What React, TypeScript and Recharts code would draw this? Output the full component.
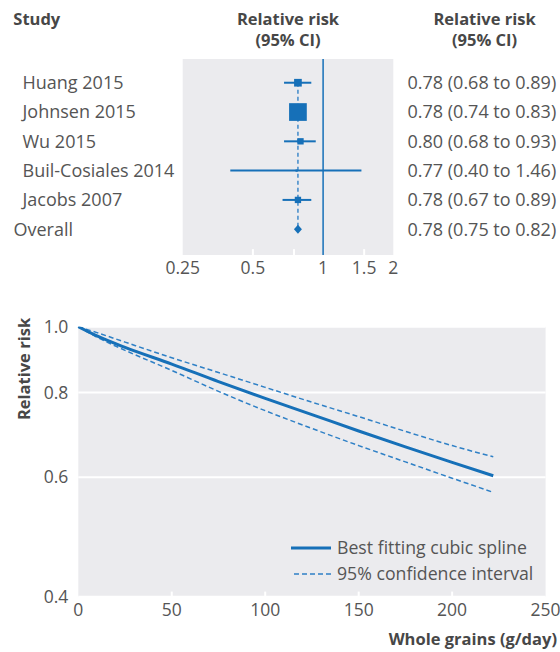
import React from 'react'
import {
  ScatterChart,
  Scatter,
  ErrorBar,
  LineChart,
  Line,
  XAxis,
  YAxis,
  CartesianGrid,
  ReferenceLine,
  Legend,
} from 'recharts'

// 森林图数据
const studies = ['Huang 2015', 'Johnsen 2015', 'Wu 2015', 'Buil-Cosiales 2014', 'Jacobs 2007', 'Overall']
const rr = [0.78, 0.78, 0.8, 0.77, 0.78, 0.78]
const lower = [0.68, 0.74, 0.68, 0.4, 0.67, 0.75]
const upper = [0.89, 0.83, 0.93, 1.46, 0.89, 0.82]
const weights = [12.9, 68.5, 8.8, 1.1, 8.8, 100]
const rrTicks = [0.25, 0.5, 1, 1.5, 2]
const rrMinorTicks = [0.5, 0.75, 1.5]

// 剂量反应曲线
const grains = [0, 10, 25, 50, 75, 100, 125, 150, 175, 200, 222]
const splineRR = [1.0, 0.969, 0.932, 0.881, 0.83, 0.784, 0.742, 0.702, 0.665, 0.631, 0.603]
const upperCI = [1.0, 0.98, 0.949, 0.9, 0.856, 0.814, 0.774, 0.737, 0.701, 0.668, 0.643]
const lowerCI = [1.0, 0.965, 0.923, 0.862, 0.803, 0.752, 0.708, 0.668, 0.632, 0.598, 0.57]
const grainTicks = [0, 50, 100, 150, 200, 250]
const riskTicks = [0.4, 0.6, 0.8, 1.0]

const BLUE = '#1670b8'
const DASH_BLUE = '#2f80c6'
const PANEL = '#ebebee'
const TEXT = '#555555'
const TITLE = '#474747'
const FONT = "'Open Sans', sans-serif"

const forestData = studies.map((name, i) => ({
  row: i,
  name,
  rr: rr[i],
  err: i === studies.length - 1 ? [0, 0] : [rr[i] - lower[i], upper[i] - rr[i]],
  weight: weights[i],
  label: `${rr[i].toFixed(2)} (${lower[i].toFixed(2)} to ${upper[i].toFixed(2)})`,
}))

const splineData = grains.map((g, i) => ({
  g,
  fit: splineRR[i],
  hi: upperCI[i],
  lo: lowerCI[i],
}))

const ForestMark = (props: any) => {
  const { cx, cy, payload } = props
  if (payload.row === studies.length - 1) {
    return (
      <polygon
        points={`${cx - 4},${cy} ${cx},${cy - 4.5} ${cx + 4},${cy} ${cx},${cy + 4.5}`}
        fill={BLUE}
      />
    )
  }
  const s = Math.sqrt(payload.weight) * 2.14
  return <rect x={cx - s / 2} y={cy - s / 2} width={s} height={s} fill={BLUE} />
}

// 左侧研究名 + 右侧效应值
const StudyTick = ({ y, payload }: any) => {
  const d = forestData[payload.value]
  if (!d) return null
  return (
    <g fill={TEXT} fontSize={18}>
      <text x={d.row === studies.length - 1 ? 13.5 : 22.5} y={y} dy="0.355em">
        {d.name}
      </text>
      <text x={407.5} y={y} dy="0.355em">
        {d.label}
      </text>
    </g>
  )
}

const SplineLegend = () => (
  <svg width={260} height={52} style={{ overflow: 'visible' }}>
    <line x1={0} x2={40} y1={13} y2={13} stroke={BLUE} strokeWidth={3} />
    <text x={46} y={13} dy="0.355em" fill={TEXT} fontSize={17.7}>
      Best fitting cubic spline
    </text>
    <line x1={3} x2={40} y1={39} y2={39} stroke={DASH_BLUE} strokeWidth={1.5} strokeDasharray="5 3" />
    <text x={46} y={39} dy="0.355em" fill={TEXT} fontSize={17.7}>
      95% confidence interval
    </text>
  </svg>
)

export default function App() {
  return (
    <div
      style={{
        position: 'absolute',
        left: 0,
        top: 0,
        width: 560,
        height: 652,
        background: '#fff',
        fontFamily: FONT,
      }}
    >
      {/* 森林图 */}
      <div style={{ position: 'absolute', left: 0, top: 0 }}>
        <ScatterChart width={560} height={290} margin={{ top: 59, right: 166.7, bottom: 0, left: 0 }}>
          <CartesianGrid fill={PANEL} horizontal={false} vertical={false} />
          <XAxis
            dataKey="rr"
            type="number"
            scale="log"
            domain={[0.25, 2]}
            ticks={rrTicks}
            tickFormatter={(v: number) => String(v)}
            axisLine={false}
            tickLine={false}
            tickSize={0}
            tickMargin={7}
            height={35}
            tick={{ fill: TEXT, fontSize: 17.5 }}
            allowDataOverflow
          />
          <YAxis
            dataKey="row"
            type="number"
            domain={[-0.81, 5.88]}
            reversed
            ticks={[0, 1, 2, 3, 4, 5]}
            width={182.7}
            axisLine={false}
            tickLine={false}
            tick={<StudyTick />}
          />
          {rrMinorTicks.map((t) => (
            <ReferenceLine
              key={t}
              segment={[{ x: t, y: 5.68 }, { x: t, y: 5.88 }]}
              stroke="#ffffff"
              strokeWidth={2}
            />
          ))}
          <ReferenceLine
            segment={[{ x: rr[5], y: 0 }, { x: rr[5], y: 5 }]}
            stroke={DASH_BLUE}
            strokeOpacity={0.85}
            strokeWidth={1.6}
            strokeDasharray="4 3"
          />
          <ReferenceLine x={1} stroke={BLUE} strokeWidth={1.5} />
          <Scatter data={forestData} shape={<ForestMark />} isAnimationActive={false}>
            <ErrorBar dataKey="err" direction="x" width={0} stroke={BLUE} strokeWidth={2} />
          </Scatter>
        </ScatterChart>
      </div>

      {/* 剂量反应曲线 */}
      <div style={{ position: 'absolute', left: 0, top: 290 }}>
        <LineChart
          width={560}
          height={362}
          data={splineData}
          margin={{ top: 36.7, right: 14.4, bottom: 0, left: 0 }}
        >
          <CartesianGrid fill={PANEL} vertical={false} stroke="#ffffff" strokeWidth={2} />
          <XAxis
            dataKey="g"
            type="number"
            domain={[0, 250]}
            ticks={grainTicks}
            axisLine={false}
            tickLine={false}
            tickSize={0}
            tickMargin={7}
            height={55.3}
            tick={{ fill: TEXT, fontSize: 17.5 }}
          />
          <YAxis
            type="number"
            scale="log"
            domain={[0.4, 1]}
            ticks={riskTicks}
            tickFormatter={(v: number) => v.toFixed(1)}
            width={78.3}
            axisLine={false}
            tickLine={false}
            tickSize={0}
            tickMargin={10}
            tick={{ fill: TEXT, fontSize: 17.5 }}
            allowDataOverflow
          />
          {[50, 100, 150, 200].map((t) => (
            <ReferenceLine
              key={t}
              segment={[{ x: t, y: 0.4 }, { x: t, y: 0.407 }]}
              stroke="#ffffff"
              strokeWidth={2}
            />
          ))}
          <Line
            type="monotone"
            dataKey="hi"
            stroke={DASH_BLUE}
            strokeWidth={1.5}
            strokeDasharray="5 3"
            dot={false}
            isAnimationActive={false}
          />
          <Line
            type="monotone"
            dataKey="lo"
            stroke={DASH_BLUE}
            strokeWidth={1.5}
            strokeDasharray="5 3"
            dot={false}
            isAnimationActive={false}
          />
          <Line
            type="monotone"
            dataKey="fit"
            stroke={BLUE}
            strokeWidth={3}
            dot={false}
            isAnimationActive={false}
          />
          <Legend
            layout="horizontal"
            align="center"
            verticalAlign="middle"
            content={<SplineLegend />}
            wrapperStyle={{ left: 290.5, top: 245, width: 260 }}
          />
        </LineChart>
      </div>

      {/* 标题文字 */}
      <svg
        width={560}
        height={652}
        style={{ position: 'absolute', left: 0, top: 0, pointerEvents: 'none' }}
      >
        <g fontWeight="bold" fill={TITLE} fontSize={16.5}>
          <text x={13.3} y={25}>Study</text>
          <text x={288} y={25} textAnchor="middle">Relative risk</text>
          <text x={288} y={46} textAnchor="middle">(95% CI)</text>
          <text x={484.6} y={25} textAnchor="middle">Relative risk</text>
          <text x={484.6} y={46} textAnchor="middle">(95% CI)</text>
          <text x={557} y={645} textAnchor="end">Whole grains (g/day)</text>
          <text x={30} y={369} textAnchor="middle" transform="rotate(-90 30 369)">
            Relative risk
          </text>
        </g>
      </svg>
    </div>
  )
}
